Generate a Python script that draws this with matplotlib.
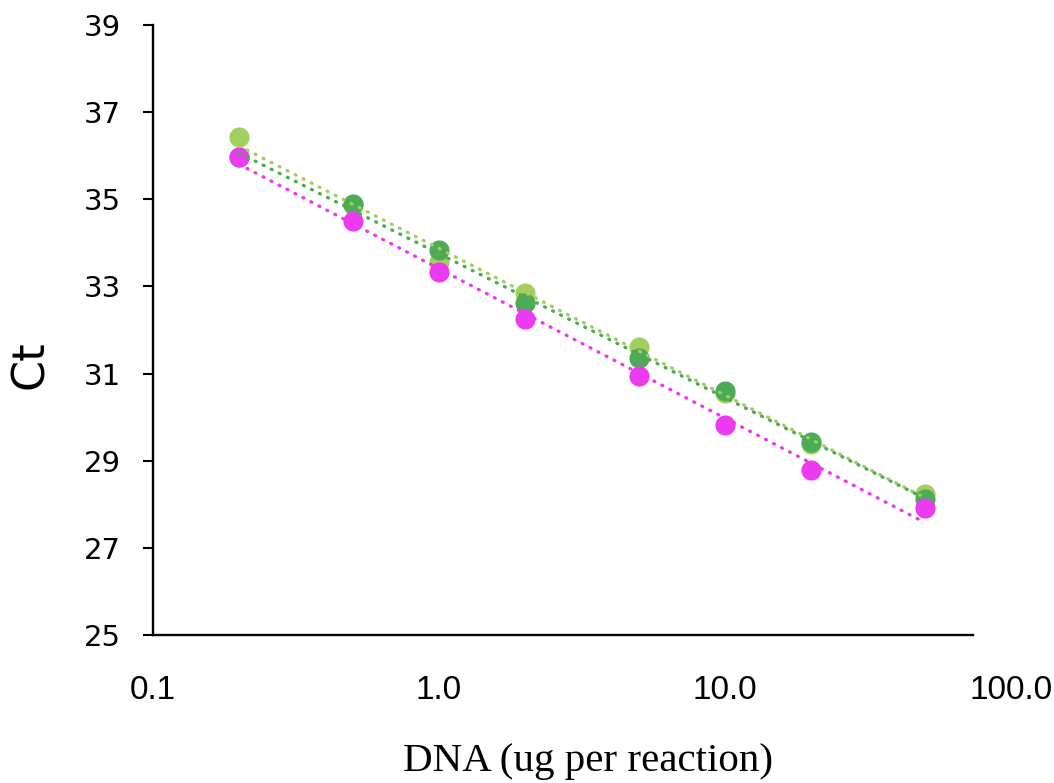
import numpy as np
import matplotlib
matplotlib.use("Agg")
import matplotlib.pyplot as plt
from matplotlib.ticker import FixedLocator, FixedFormatter, NullLocator

# DNA input per reaction (ug) and measured Ct values for three assays
dna_ug = [0.2, 0.5, 1.0, 2.0, 5.0, 10.0, 20.0, 50.0]
ct_light_green = [36.43, 34.86, 33.55, 32.86, 31.62, 30.56, 29.38, 28.24]
ct_dark_green = [35.96, 34.89, 33.84, 32.62, 31.35, 30.59, 29.43, 28.11]
ct_magenta = [35.97, 34.51, 33.32, 32.25, 30.95, 29.83, 28.79, 27.91]

series = [
    (ct_light_green, "#A3CF5F"),
    (ct_dark_green, "#4DAA57"),
    (ct_magenta, "#EC3AF0"),
]

x_ticks = [0.1, 1.0, 10.0, 100.0]
x_tick_labels = ["0.1", "1.0", "10.0", "100.0"]
y_ticks = [25, 27, 29, 31, 33, 35, 37, 39]

W, H = 1054, 783
fig = plt.figure(figsize=(W / 100, H / 100), dpi=100)
left, right, top, bottom = 153, 1011, 25, 635
ax = fig.add_axes([left / W, (H - bottom) / H, (right - left) / W, (bottom - top) / H])

x = np.array(dna_ug)
lx = np.log10(x)

# markers
for i, (ct, color) in enumerate(series):
    ax.plot(x, ct, linestyle="none", marker="o", markersize=14.5,
            markerfacecolor=color, markeredgewidth=0, zorder=3 + i)

# logarithmic trendlines (dotted)
for i, (ct, color) in enumerate(series):
    slope, icpt = np.polyfit(lx, np.array(ct), 1)
    xs = np.array([x.min(), x.max()])
    ys = slope * np.log10(xs) + icpt
    ax.plot(xs, ys, color=color, linewidth=2.4, dashes=(0.3, 2.4),
            dash_capstyle="round", solid_capstyle="round", zorder=10 + i)

ax.set_xscale("log")
ax.set_xlim(0.1, 100)
ax.set_ylim(25, 39)

for s in ("top", "right"):
    ax.spines[s].set_visible(False)
for s in ("left", "bottom"):
    ax.spines[s].set_linewidth(1.7)
    ax.spines[s].set_color("black")
ax.spines["bottom"].set_bounds(0.1, 73.5)

ax.xaxis.set_major_locator(FixedLocator(x_ticks))
ax.xaxis.set_major_formatter(FixedFormatter(x_tick_labels))
ax.xaxis.set_minor_locator(NullLocator())
ax.tick_params(axis="x", which="both", length=0, pad=29)
for lab in ax.get_xticklabels():
    lab.set_fontfamily(["Liberation Sans Narrow", "Liberation Sans", "DejaVu Sans"])
    lab.set_fontsize(24)

ax.set_yticks(y_ticks)
ax.tick_params(axis="y", length=7, width=1.5, direction="out", pad=16,
               labelsize=21)
for lab in ax.get_yticklabels():
    lab.set_fontfamily("DejaVu Sans")

fig.text(30 / W, 1 - 365 / H, "Ct", rotation=90, ha="center", va="center",
         fontsize=32, family="DejaVu Sans")
fig.text(588 / W, 1 - 762 / H, "DNA (ug per reaction)", ha="center",
         va="center", fontsize=29.5, family="Liberation Serif")

fig.savefig("out.png", dpi=100, facecolor="white")
